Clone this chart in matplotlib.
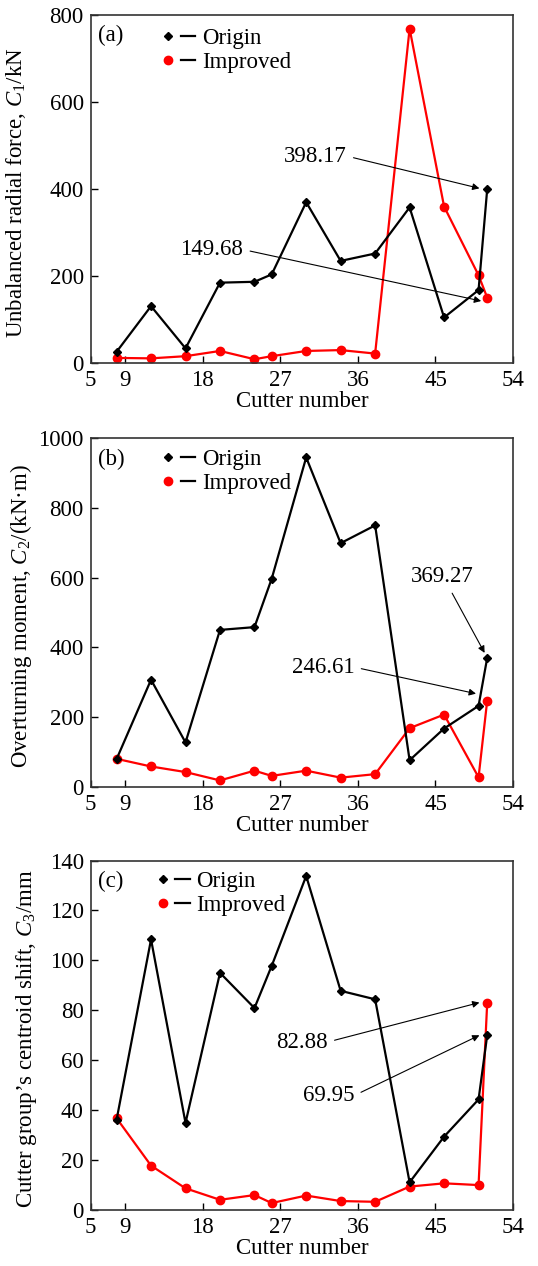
import matplotlib
matplotlib.use("Agg")
import matplotlib.pyplot as plt
from matplotlib.lines import Line2D
from matplotlib.legend_handler import HandlerTuple

# cutter numbers shared by every panel
cutter = [8, 12, 16, 20, 24, 26, 30, 34, 38, 42, 46, 50, 51]

# (a) unbalanced radial force, kN
force_origin = [25, 130, 33, 184, 186, 203, 369, 234, 251, 357, 104, 167, 398.17]
force_improved = [11, 10, 15, 27, 8, 15, 27, 29, 21, 768, 359, 201, 149.68]

# (b) overturning moment, kN·m
moment_origin = [79, 307, 127, 450, 458, 597, 945, 699, 750, 76, 167, 232, 369.27]
moment_improved = [80, 58, 42, 18, 46, 31, 46, 26, 36, 168, 207, 27, 246.61]

# (c) centroid shift, mm
shift_origin = [36.1, 108.4, 34.9, 95.0, 80.9, 97.8, 133.8, 87.8, 84.4, 11.1, 29.4, 44.3, 69.95]
shift_improved = [36.8, 17.8, 8.7, 4.1, 6.0, 2.8, 5.8, 3.6, 3.3, 9.4, 10.7, 10.0, 82.88]

x_ticks = [5, 9, 18, 27, 36, 45, 54]

plt.rcParams["font.family"] = ["Liberation Serif", "DejaVu Serif"]
plt.rcParams["mathtext.fontset"] = "custom"
plt.rcParams["mathtext.rm"] = "Liberation Serif"
plt.rcParams["mathtext.it"] = "Liberation Serif:italic"
plt.rcParams["font.size"] = 16.5

fig = plt.figure(figsize=(5.38, 12.66), dpi=100)

panels = [
    dict(rect=[0.1686, 0.7135, 0.785, 0.2749], tag="(a)",
         origin=force_origin, improved=force_improved,
         ylim=(0, 800), yticks=[0, 200, 400, 600, 800],
         ylabel="Unbalanced radial force, $C_1$/kN", ylab_x=-0.148,
         leg=(0.134, 1.0),
         notes=[("398.17", (50.1, 400.8), (34.7, 475), "right", (1, 0.5)),
                ("149.68", (50.3, 141.8), (22.7, 260), "right", (1, 0.5))]),
    dict(rect=[0.1686, 0.3786, 0.785, 0.2752], tag="(b)",
         origin=moment_origin, improved=moment_improved,
         ylim=(0, 1000), yticks=[0, 200, 400, 600, 800, 1000],
         ylabel="Overturning moment, $C_2$/(kN·m)", ylab_x=-0.135,
         leg=(0.134, 1.008),
         notes=[("369.27", (50.7, 384), (45.8, 604), "center", (0.6, 0)),
                ("246.61", (49.7, 267), (35.6, 343), "right", (1, 0.5))]),
    dict(rect=[0.1686, 0.0442, 0.785, 0.2761], tag="(c)",
         origin=shift_origin, improved=shift_improved,
         ylim=(0, 140), yticks=[0, 20, 40, 60, 80, 100, 120, 140],
         ylabel="Cutter group\u2019s centroid shift, $C_3$/mm", ylab_x=-0.122,
         leg=(0.12, 1.008),
         notes=[("82.88", (50.1, 83.1), (32.5, 67.3), "right", (1, 0.5)),
                ("69.95", (50.1, 70.0), (35.6, 45.9), "right", (1, 0.5))]),
]

for p in panels:
    ax = fig.add_axes(p["rect"])
    ax.plot(cutter, p["origin"], color="black", lw=1.6, marker="D",
            ms=4, zorder=3)
    ax.plot(cutter, p["improved"], color="#ff0000", lw=1.6, marker="o",
            ms=6, zorder=2)
    ax.set_xlim(5, 54)
    ax.set_xticks(x_ticks)
    ax.set_ylim(*p["ylim"])
    ax.set_yticks(p["yticks"])
    ax.tick_params(direction="in", length=5, width=1, pad=5)
    for s in ax.spines.values():
        s.set_linewidth(1.2)
        s.set_color("#333333")
    ax.set_xlabel("Cutter number", labelpad=0)
    ax.set_ylabel(p["ylabel"])
    ax.yaxis.set_label_coords(p["ylab_x"], 0.49)
    ax.text(0.017, 0.94, p["tag"], transform=ax.transAxes, va="center")

    # legend: marker and line side by side
    h_o = (Line2D([], [], color="black", marker="D", ms=4, ls="none"),
           Line2D([], [], color="black", lw=1.6))
    h_i = (Line2D([], [], color="#ff0000", marker="o", ms=6, ls="none"),
           Line2D([], [], color="black", lw=1.6))
    ax.legend([h_o, h_i], ["Origin", "Improved"],
              handler_map={tuple: HandlerTuple(ndivide=None, pad=0.2)},
              loc="upper left", bbox_to_anchor=p["leg"], frameon=False,
              handlelength=1.5, handletextpad=0.3, labelspacing=0.1,
              borderaxespad=0.2)

    for label, xy, xytext, ha, rel in p["notes"]:
        ax.annotate(label, xy=xy, xytext=xytext, ha=ha, va="center",
                    arrowprops=dict(arrowstyle="-|>", color="black", lw=0.8,
                                    mutation_scale=10, relpos=rel,
                                    shrinkA=3, shrinkB=0))

fig.savefig("out.png", dpi=100)
